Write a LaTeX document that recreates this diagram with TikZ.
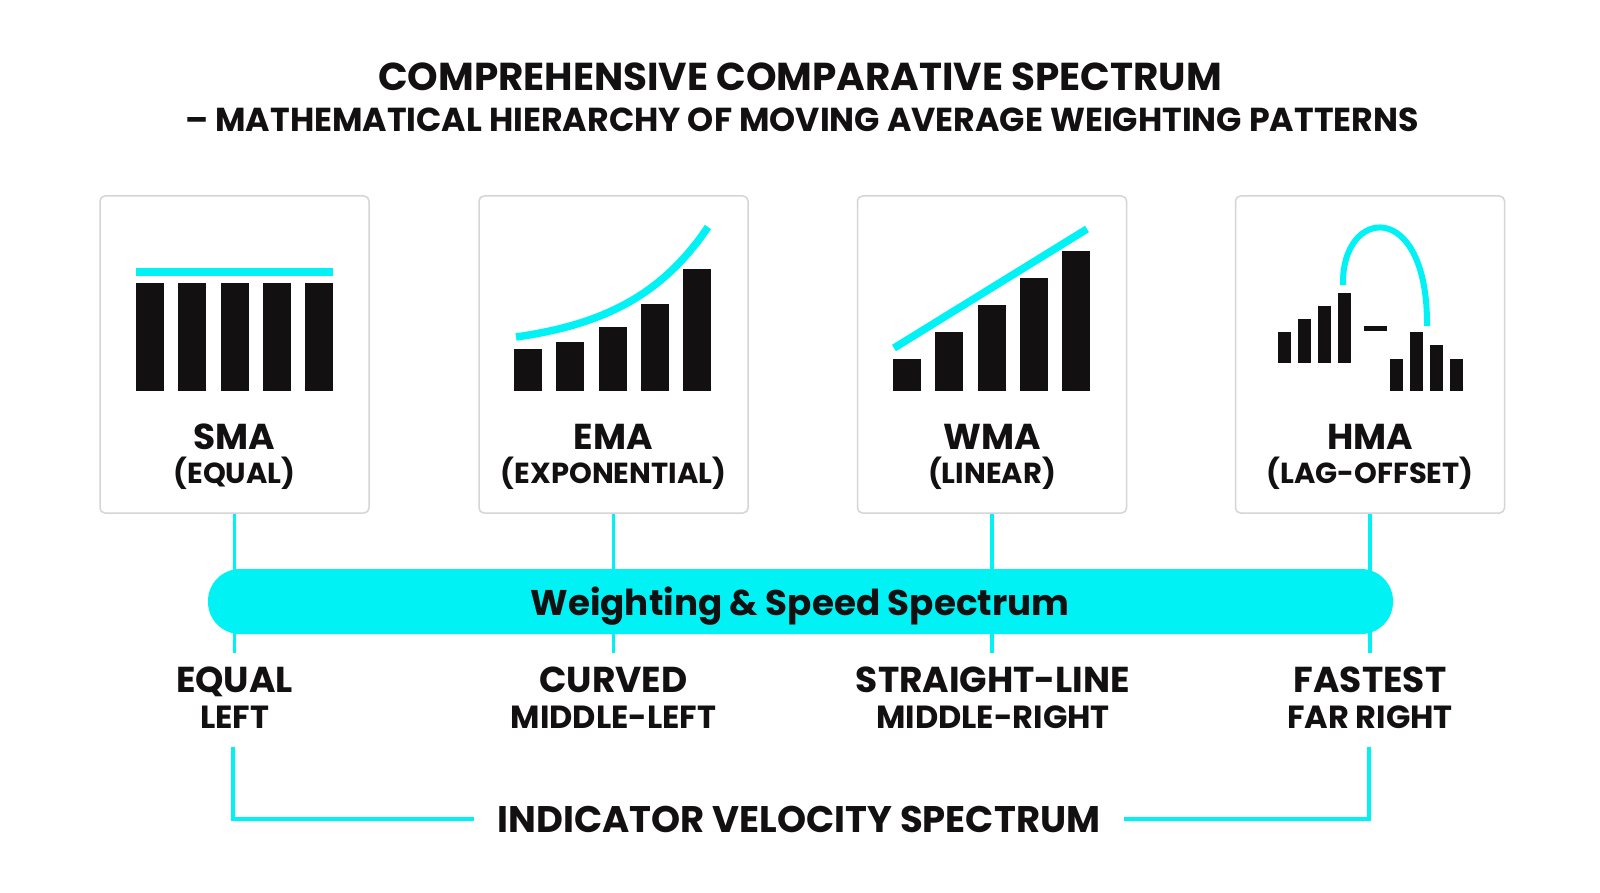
\documentclass[tikz,border=0pt]{standalone}
\usepackage{fontspec}
\setmainfont{Poppins}
\definecolor{spec}{HTML}{00F2F5}
\definecolor{ink}{HTML}{121010}
\definecolor{edge}{HTML}{D5D5D5}
\tikzset{
  panel/.style={draw=edge, line width=1.5pt, rounded corners=5pt, minimum width=269pt, minimum height=317pt, inner sep=0pt},
  link/.style={spec, line width=3.5pt},
  trend/.style={spec, line width=7.5pt},
  caps/.style={inner sep=0pt, text depth=0pt, text=ink},
  maname/.style={caps, text height=25pt, font=\bfseries\fontsize{36}{40}\selectfont},
  masub/.style={caps, text height=20.5pt, font=\bfseries\fontsize{29}{34}\selectfont},
  spot/.style={caps, text height=25pt, font=\bfseries\fontsize{36}{40}\selectfont},
  spotsub/.style={caps, text height=22.5pt, font=\bfseries\fontsize{32}{36}\selectfont},
  specbar/.style={fill=spec, rounded corners=32pt, minimum width=1185pt, minimum height=65pt, inner sep=0pt}
}
\begin{document}
\begin{tikzpicture}[x=1pt, y=-1pt]
    \useasboundingbox[fill=white] (0,0) rectangle (1600,893);

    \node[caps, text height=27pt, font=\bfseries\fontsize{38.9}{44}\selectfont] (title) at (800,77) {COMPREHENSIVE COMPARATIVE SPECTRUM};
    \node[caps, text height=23.5pt, font=\bfseries\fontsize{33.2}{40}\selectfont] (subtitle) at (802,120) {– MATHEMATICAL HIERARCHY OF MOVING AVERAGE WEIGHTING PATTERNS};

    \node[panel] (sma) at (234.5,354.5) {};
    \node[panel] (ema) at (613.5,354.5) {};
    \node[panel] (wma) at (992,354.5) {};
    \node[panel] (hma) at (1370,354.5) {};

    % SMA: equal weights
    \foreach \i in {0,...,4} \fill[ink] (136+42.25*\i,283) rectangle ++(28,108);
    \draw[trend] (136,272) -- (333,272);

    % EMA: exponential weights
    \foreach \i/\t in {0/349,1/342,2/327,3/304,4/269} \fill[ink] (514+42.25*\i,\t) rectangle (542+42.25*\i,391);
    \draw[trend] (516,337) .. controls (608,324) and (664,292) .. (708,227);

    % WMA: linear weights
    \foreach \i/\t in {0/359,1/332,2/305,3/278,4/251} \fill[ink] (893+42.25*\i,\t) rectangle (921+42.25*\i,391);
    \draw[trend] (894,348) -- (1087,229);

    % HMA: lag offset
    \foreach \i/\t in {0/332,1/319,2/306,3/293} \fill[ink] (1278+20*\i,\t) rectangle (1291+20*\i,363);
    \foreach \i/\t in {0/359,1/332,2/345,3/359} \fill[ink] (1390+20*\i,\t) rectangle (1403+20*\i,391);
    \draw[ink, line width=5pt] (1364,328.5) -- (1387,328.5);
    \draw[spec, line width=6pt] (1343,285) .. controls (1341,207) and (1428,197) .. (1427,326);

    \node[maname] (smaname) at (234.5,437) {SMA};
    \node[masub] (smasub) at (234.5,473) {(EQUAL)};
    \node[maname] (emaname) at (613.5,437) {EMA};
    \node[masub] (emasub) at (613.5,473) {(EXPONENTIAL)};
    \node[maname] (wmaname) at (992,437) {WMA};
    \node[masub] (wmasub) at (992,473) {(LINEAR)};
    \node[maname] (hmaname) at (1370,437) {HMA};
    \node[masub] (hmasub) at (1370,473) {(LAG-OFFSET)};

    \coordinate (stub) at (0,653);
    \draw[link] (sma.south) -- (sma.south |- stub);
    \draw[link] (ema.south) -- (ema.south |- stub);
    \draw[link] (wma.south) -- (wma.south |- stub);
    \draw[link] (hma.south) -- (hma.south |- stub);

    \node[specbar] (spectrum) at (800.5,601.5) {};
    \node[caps, text height=25pt, font=\bfseries\fontsize{35.7}{40}\selectfont] (spectext) at (800,603) {Weighting \& Speed Spectrum};

    \node[spot] (equal) at (234.5,680) {EQUAL};
    \node[spotsub] (left) at (234.5,717) {LEFT};
    \node[spot] (curved) at (613.5,680) {CURVED};
    \node[spotsub] (midleft) at (613.5,717) {MIDDLE-LEFT};
    \node[spot] (straight) at (993,680) {STRAIGHT-LINE};
    \node[spotsub] (midright) at (993,717) {MIDDLE-RIGHT};
    \node[spot] (fastest) at (1370,680) {FASTEST};
    \node[spotsub] (farright) at (1370,717) {FAR RIGHT};

    \coordinate (bl) at (233,747);
    \coordinate (br) at (1369,747);
    \node[caps, text height=26pt, inner xsep=24pt, font=\bfseries\fontsize{37}{42}\selectfont] (velocity) at (799,819) {INDICATOR VELOCITY SPECTRUM};
    \draw[link, line width=4pt] (velocity.west) -| (bl);
    \draw[link, line width=4pt] (velocity.east) -| (br);
\end{tikzpicture}
\end{document}
